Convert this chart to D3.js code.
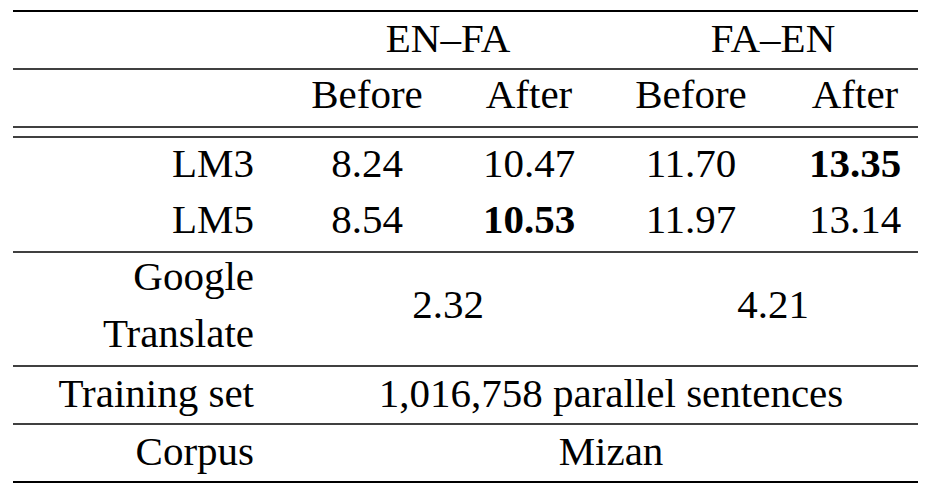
<!DOCTYPE html>
<html><head><meta charset="utf-8">
<script src="https://cdn.jsdelivr.net/npm/d3@7"></script>
<style>body{margin:0;background:#fff} text{font-family:"Liberation Serif","Times New Roman","DejaVu Serif",serif}</style>
</head><body>
<svg id="t" width="939" height="490"></svg>
<script>
// table content
const pairs = ["EN–FA", "FA–EN"]
const subCols = ["Before", "After", "Before", "After"]
const models = ["LM3", "LM5"]
const scores = [[8.24, 10.47, 11.70, 13.35], [8.54, 10.53, 11.97, 13.14]]
const bestCol = {LM3: 3, LM5: 1}
const google = [2.32, 4.21]
const trainingSet = "1,016,758 parallel sentences"
const corpus = "Mizan"

const svg = d3.select("#t")
const fs = 41

// column centres
const cx = d3.scaleOrdinal().domain(d3.range(4)).range([367, 529, 691, 855])
const labelX = 254

function text(s, xx, yy, anchor, bold) {
    svg.append("text").attr("x", xx).attr("y", yy)
        .attr("text-anchor", anchor || "middle")
        .attr("font-size", fs)
        .attr("font-weight", bold ? "bold" : "normal")
        .text(s)
}
function hline(y, w) {
    svg.append("line").attr("x1", 13).attr("x2", 918).attr("y1", y).attr("y2", y)
        .attr("stroke", "#000").attr("stroke-width", w || 1.4)
}

hline(11, 2.2)
hline(69)
hline(127)
hline(137)
hline(252)
hline(366)
hline(424)
hline(482, 2.2)

pairs.forEach((p, i) => text(p, (cx(i * 2) + cx(i * 2 + 1)) / 2, 52))
subCols.forEach((c, i) => text(c, cx(i), 108))

models.forEach((m, r) => {
    const y = [177, 233][r]
    text(m, labelX, y, "end")
    scores[r].forEach((v, i) => text(v.toFixed(2), cx(i), y, "middle", bestCol[m] === i))
})

text("Google", labelX, 290, "end")
text("Translate", labelX, 347, "end")
google.forEach((v, i) => text(v.toFixed(2), (cx(i * 2) + cx(i * 2 + 1)) / 2, 318))

text("Training set", labelX, 407, "end")
text(trainingSet, (cx(0) + cx(3)) / 2, 407)
text("Corpus", labelX, 465, "end")
text(corpus, (cx(0) + cx(3)) / 2, 465)
</script>
</body></html>
